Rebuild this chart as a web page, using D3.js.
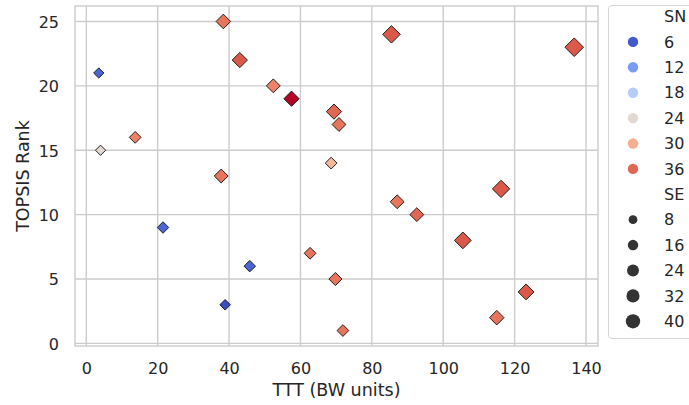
<!DOCTYPE html>
<html>
<head>
<meta charset="utf-8">
<script src="https://cdn.jsdelivr.net/npm/d3@7"></script>
<style>
  body { margin: 0; background: white; }
  svg { display: block; font-family: "DejaVu Sans", sans-serif; }
</style>
</head>
<body>
<svg width="689" height="405"></svg>
<script>
// data, listed from rank 25 down to rank 1 (draw order)
const rank = [25, 24, 23, 22, 21, 20, 19, 18, 17, 16, 15, 14, 13, 12, 11, 10, 9, 8, 7, 6, 5, 4, 3, 2, 1]
const ttt = [38.4, 85.5, 136.7, 43.0, 3.5, 52.4, 57.5, 69.4, 70.8, 13.7, 4.0, 68.6, 37.8, 116.2, 87.1, 92.6, 21.5, 105.5, 62.7, 45.8, 69.8, 123.2, 38.9, 115.0, 71.9]
const sn = [35, 37, 37, 37, 7, 34, 41, 36, 35, 34, 24, 29, 35, 37, 35, 36, 7, 37, 35, 7, 35, 37, 5, 35, 35]
const se = [20, 34, 40, 23, 4, 17, 23, 23, 17, 9, 4, 9, 17, 33, 17, 17, 8, 30, 9, 8, 14, 26, 5, 20, 9]

const xTicks = [0, 20, 40, 60, 80, 100, 120, 140]
const yTicks = [0, 5, 10, 15, 20, 25]
const snLegend = [6, 12, 18, 24, 30, 36]
const seLegend = [8, 16, 24, 32, 40]

// matplotlib coolwarm (Moreland table)
const coolwarm = ['#3b4cc0', '#445acc', '#4d68d7', '#5775e1', '#6282ea', '#6c8ef1', '#779af7', '#82a5fb',
  '#8db0fe', '#98b9ff', '#a3c2ff', '#aec9fd', '#b8d0f9', '#c2d5f4', '#ccd9ee', '#d5dbe6', '#dddddd',
  '#e5d8d1', '#ecd3c5', '#f1ccb8', '#f5c4ad', '#f7bba0', '#f7b194', '#f7a687', '#f49a7b', '#f18d6f',
  '#ec7f63', '#e57058', '#de604d', '#d55042', '#cb3e38', '#c0282f', '#b40426']

const svg = d3.select('svg')
const m = { left: 75, right: 598, top: 6, bottom: 346 }

const pad = (lo, hi) => [lo - (hi - lo) * 0.05, hi + (hi - lo) * 0.05]

const x = d3.scaleLinear()
    .domain(pad(d3.min(ttt), d3.max(ttt)))
    .range([m.left, m.right])

const y = d3.scaleLinear()
    .domain(pad(d3.min(rank), d3.max(rank)))
    .range([m.bottom, m.top])

const color = d3.scaleSequential(d3.interpolateRgbBasis(coolwarm))
    .domain([5, 41])

// SE -> marker area (px^2)
const size = d3.scaleLinear()
    .domain([4, 40])
    .range([62, 205])

const textColor = '#262626'
const gridColor = '#cccccc'

// axes background + grid
svg.append('rect')
    .attr('x', m.left).attr('y', m.top)
    .attr('width', m.right - m.left).attr('height', m.bottom - m.top)
    .attr('fill', 'white')

const grid = svg.append('g')
grid.selectAll('.gx').data(xTicks).enter().append('line')
    .attr('x1', d => x(d)).attr('x2', d => x(d))
    .attr('y1', m.top).attr('y2', m.bottom)
    .attr('stroke', gridColor).attr('stroke-width', 1.4)
grid.selectAll('.gy').data(yTicks).enter().append('line')
    .attr('x1', m.left).attr('x2', m.right)
    .attr('y1', d => y(d)).attr('y2', d => y(d))
    .attr('stroke', gridColor).attr('stroke-width', 1.4)

svg.append('rect')
    .attr('x', m.left).attr('y', m.top)
    .attr('width', m.right - m.left).attr('height', m.bottom - m.top)
    .attr('fill', 'none')
    .attr('stroke', gridColor).attr('stroke-width', 1.4)

// axes (tick labels only, no tick marks)
const xAxis = svg.append('g')
    .attr('transform', `translate(0,${m.bottom})`)
    .call(d3.axisBottom(x).tickValues(xTicks).tickSize(0).tickPadding(0))
xAxis.select('.domain').remove()
xAxis.selectAll('text')
    .attr('y', 28).attr('dy', 0)
    .attr('font-size', 16).attr('fill', textColor)
    .attr('font-family', 'DejaVu Sans')

const yAxis = svg.append('g')
    .attr('transform', `translate(${m.left},0)`)
    .call(d3.axisLeft(y).tickValues(yTicks).tickSize(0).tickPadding(0))
yAxis.select('.domain').remove()
yAxis.selectAll('text')
    .attr('x', -16).attr('dy', '0.36em')
    .attr('font-size', 16).attr('fill', textColor)
    .attr('font-family', 'DejaVu Sans')

svg.append('text')
    .attr('x', (m.left + m.right) / 2).attr('y', 396)
    .attr('text-anchor', 'middle')
    .attr('font-size', 17.5).attr('fill', textColor)
    .text('TTT (BW units)')

svg.append('text')
    .attr('transform', `translate(29,${(m.top + m.bottom) / 2}) rotate(-90)`)
    .attr('text-anchor', 'middle')
    .attr('font-size', 17.5).attr('fill', textColor)
    .text('TOPSIS Rank')

// points: rotated squares (matplotlib 'D')
const pts = d3.range(rank.length)
svg.append('g').selectAll('path').data(pts).enter().append('path')
    .attr('transform', i => `translate(${x(ttt[i])},${y(rank[i])}) rotate(45)`)
    .attr('d', i => {
        const s = Math.sqrt(size(se[i])) * 1.3 / Math.SQRT2
        return `M${-s / 2},${-s / 2}h${s}v${s}h${-s}Z`
    })
    .attr('fill', i => color(sn[i]))
    .attr('stroke', '#1a1a1a').attr('stroke-width', 0.9)

// legend
const lg = svg.append('g')
lg.append('rect')
    .attr('x', 608.5).attr('y', 5.5)
    .attr('width', 100).attr('height', 333)
    .attr('rx', 3.5)
    .attr('fill', 'white').attr('stroke', '#d6d6d6').attr('stroke-width', 1)

const rowH = 25.4
const row0 = 16.5
const mx = 633, tx = 664

const entries = [{ label: 'SN' }]
    .concat(snLegend.map(v => ({ label: v, fill: color(v), r: 5.2 })))
    .concat([{ label: 'SE' }])
    .concat(seLegend.map(v => ({ label: v, fill: '#333333', r: Math.sqrt(size(v)) / 2 })))

const rows = lg.selectAll('g.row').data(entries).enter().append('g')
    .attr('transform', (d, i) => `translate(0,${row0 + i * rowH})`)
rows.filter(d => d.fill).append('circle')
    .attr('cx', mx).attr('cy', 0).attr('r', d => d.r)
    .attr('fill', d => d.fill)
rows.append('text')
    .attr('x', tx).attr('dy', '0.36em')
    .attr('font-size', 16).attr('fill', textColor)
    .text(d => d.label)
</script>
</body>
</html>
